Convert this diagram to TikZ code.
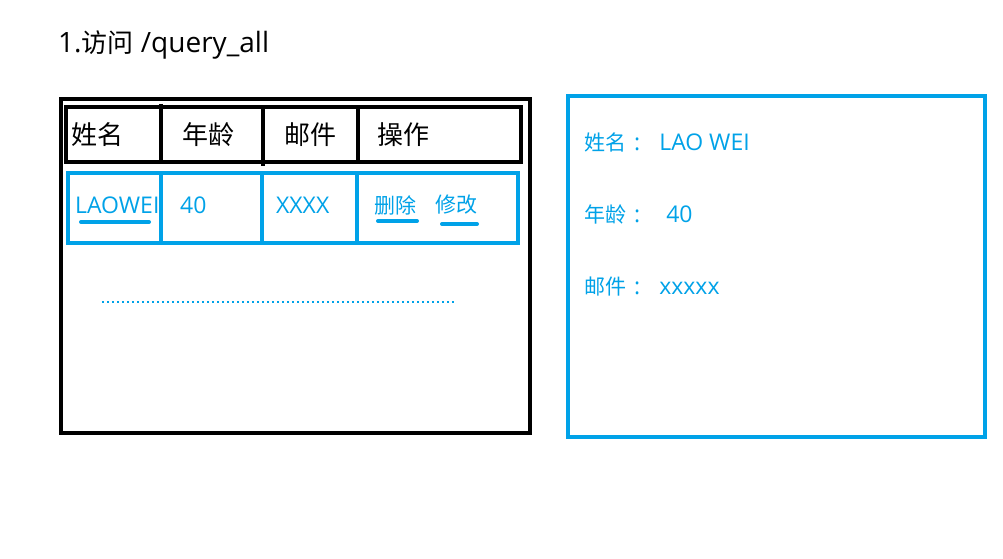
\documentclass[tikz,border=0pt]{standalone}
\usepackage{fontspec}
\setmainfont{Open Sans}
\newfontfamily\cjk{Noto Sans CJK SC}
\definecolor{pblue}{RGB}{0,162,232}
\newcommand{\cb}[1]{{\fontsize{26}{26}\selectfont\cjk #1}}
\newcommand{\cs}[1]{{\fontsize{21}{21}\selectfont\cjk #1}}
\begin{document}
\begin{tikzpicture}[x=1pt,y=-1pt,
  txt/.style={anchor=west,inner sep=0pt},
  big/.style={txt,font=\fontsize{28}{28}\selectfont},
  small/.style={txt,text=pblue,font=\fontsize{23}{23}\selectfont},
  blk/.style={draw=black,line width=4pt},
  blu/.style={draw=pblue,line width=4pt},
  uline/.style={draw=pblue,line width=4pt,line cap=round}]
\useasboundingbox (0,0) rectangle (1003,559);
\fill[white] (0,0) rectangle (1003,559);
% title
\node[big] (title) at (58,45) {1.\cb{访问} /query\_all};
% outer box
\draw[blk] (61,99) rectangle (530,433);
% header row
\draw[blk] (66,107) rectangle (521,162);
\draw[blk] (161,104) -- (161,162);
\draw[blk] (263,107) -- (263,166);
\draw[blk] (358,107) -- (358,162);
\node[big] (h1) at (71,135) {\cb{姓名}};
\node[big] (h2) at (182,135) {\cb{年龄}};
\node[big] (h3) at (284,135) {\cb{邮件}};
\node[big] (h4) at (377,135) {\cb{操作}};
% blue row
\draw[blu] (68,173) rectangle (518,243);
\draw[blu] (161,171) -- (161,243);
\draw[blu] (262,173) -- (262,243);
\draw[blu] (357,171) -- (357,243);
\node[small] (c1) at (75,205) {LAOWEI};
\node[small] (c2) at (180,205) {40};
\node[small] (c3) at (276,205) {XXXX};
\node[small] (c4) at (374,205) {\cs{删除}};
\node[small] (c5) at (435,205) {\cs{修改}};
\coordinate (u1a) at (81,222); \coordinate (u1b) at (149,222);
\coordinate (u2a) at (378,221); \coordinate (u2b) at (417,221);
\coordinate (u3a) at (442,224); \coordinate (u3b) at (477,224);
\draw[uline] (u1a) -- (u1b);
\draw[uline] (u2a) -- (u2b);
\draw[uline] (u3a) -- (u3b);
% dotted line
\coordinate (d1) at (102,302); \coordinate (d2) at (455,302);
\draw[pblue,line width=2pt,dash pattern=on 2pt off 3pt] (d1) -- (d2);
% right panel
\draw[draw=pblue,line width=4.5pt] (568,96) rectangle (985,437);
\node[small] (r1) at (584,142) {\cs{姓名}\hspace{8pt}:\hspace{19pt}LAO WEI};
\node[small] (r2) at (584,214) {\cs{年龄}\hspace{8pt}:\hspace{26pt}40};
\node[small] (r3) at (584,287) {\cs{邮件}\hspace{8pt}:\hspace{19pt}xxxxx};
\end{tikzpicture}
\end{document}
